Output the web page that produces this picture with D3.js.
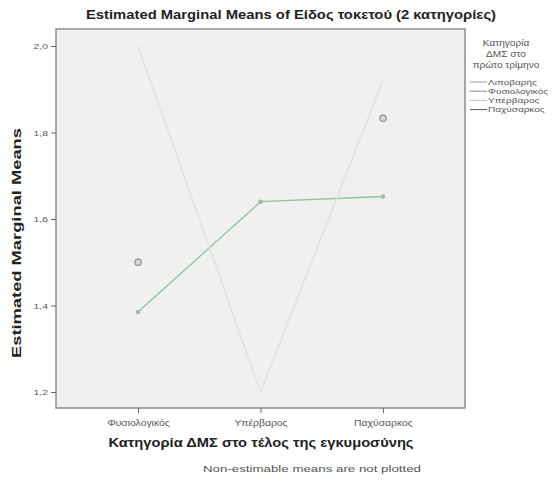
<!DOCTYPE html>
<html>
<head>
<meta charset="utf-8">
<script src="https://cdn.jsdelivr.net/npm/d3@7"></script>
<style>
  body { margin: 0; background: #fff; }
  text { font-family: Arial, "Liberation Sans", sans-serif; }
</style>
</head>
<body>
<script>
// data
var endCategories = ['Φυσιολογικός', 'Υπέρβαρος', 'Παχύσαρκος'];
var seriesNames = ['Λιποβαρής', 'Φυσιολογικός', 'Υπέρβαρος', 'Παχύσαρκος'];
var lipobaris    = [1.50, null, null];
var fysiologikos = [1.385, 1.64, 1.652];
var yperbaros    = [2.0, 1.2, 1.92];
var paxysarkos   = [null, null, 1.833];
var yTicks = [1.2, 1.4, 1.6, 1.8, 2.0];

var seriesValues = [lipobaris, fysiologikos, yperbaros, paxysarkos];
var seriesColors = ['#a9a9a9', '#8fc49b', '#e7e3db', '#5a5a5a'];
var legendColors = ['#9a9a9a', '#8a8a8a', '#c4c4c4', '#555555'];

var W = 558, H = 486;
var frame = {left: 56, right: 465, top: 29, bottom: 408};

var svg = d3.select('body').append('svg')
  .attr('width', W)
  .attr('height', H);

// the source rendering has wide lettering, so text is stretched to measured widths
function stretch(sel, factor) {
  sel.each(function() {
    var w = this.getComputedTextLength();
    d3.select(this).attr('textLength', w * factor).attr('lengthAdjust', 'spacingAndGlyphs');
  });
}

var x = d3.scalePoint()
  .domain(endCategories)
  .range([frame.left, frame.right])
  .padding(0.67);

var y = d3.scaleLinear()
  .domain([1.2, 2.0])
  .range([392, 46]);

// plot area
svg.append('rect')
  .attr('x', frame.left)
  .attr('y', frame.top)
  .attr('width', frame.right - frame.left)
  .attr('height', frame.bottom - frame.top)
  .attr('fill', '#f0f0f0')
  .attr('stroke', '#8c8c8c')
  .attr('stroke-width', 1.5);

// axes
var yAxis = svg.append('g')
  .attr('transform', 'translate(' + frame.left + ',0)')
  .call(d3.axisLeft(y).tickValues(yTicks).tickSize(5)
    .tickFormat(function(d) { return d3.format('.1f')(d).replace('.', ','); }));
yAxis.select('.domain').remove();
yAxis.selectAll('line').attr('stroke', '#666');
yAxis.selectAll('text').attr('font-size', 8).attr('fill', '#555')
  .attr('font-family', 'Arial, "Liberation Sans", sans-serif');
stretch(yAxis.selectAll('text'), 1.3);

var xAxis = svg.append('g')
  .attr('transform', 'translate(0,' + frame.bottom + ')')
  .call(d3.axisBottom(x).tickSize(5).tickPadding(7));
xAxis.select('.domain').remove();
xAxis.selectAll('line').attr('stroke', '#666');
xAxis.selectAll('text').attr('font-size', 8.5).attr('fill', '#555')
  .attr('font-family', 'Arial, "Liberation Sans", sans-serif');
stretch(xAxis.selectAll('text'), 1.22);

// lines
var line = d3.line()
  .defined(function(d) { return d != null; })
  .x(function(d, i) { return x(endCategories[i]); })
  .y(function(d) { return y(d); });

svg.append('defs').append('clipPath').attr('id', 'clip')
  .append('rect')
  .attr('x', frame.left).attr('y', frame.top)
  .attr('width', frame.right - frame.left)
  .attr('height', frame.bottom - frame.top);

var plot = svg.append('g').attr('clip-path', 'url(#clip)');

seriesValues.forEach(function(vals, s) {
  var pts = vals.map(function(v, i) { return {v: v, c: endCategories[i]}; })
    .filter(function(d) { return d.v != null; });
  if (pts.length > 1) {
    plot.append('path')
      .datum(vals)
      .attr('fill', 'none')
      .attr('stroke', seriesColors[s])
      .attr('stroke-width', s === 2 ? 1.8 : 1.3)
      .attr('d', line);
    if (s === 1) {
      plot.selectAll('.dot' + s)
        .data(pts)
        .enter().append('circle')
        .attr('cx', function(d) { return x(d.c); })
        .attr('cy', function(d) { return y(d.v); })
        .attr('r', 2.2)
        .attr('fill', '#9fb8a4');
    }
  } else {
    plot.selectAll('.pt' + s)
      .data(pts)
      .enter().append('circle')
      .attr('cx', function(d) { return x(d.c); })
      .attr('cy', function(d) { return y(d.v); })
      .attr('r', 3.2)
      .attr('fill', '#d8d8d8')
      .attr('stroke', '#8e8e8e')
      .attr('stroke-width', 1.2);
  }
});

// titles
svg.append('text')
  .attr('x', 291)
  .attr('y', 19)
  .attr('text-anchor', 'middle')
  .attr('font-size', 12.5)
  .attr('font-weight', 'bold')
  .attr('fill', '#222')
  .attr('textLength', 410)
  .attr('lengthAdjust', 'spacingAndGlyphs')
  .text('Estimated Marginal Means of Είδος τοκετού (2 κατηγορίες)');

svg.append('text')
  .attr('transform', 'translate(21,243) rotate(-90)')
  .attr('text-anchor', 'middle')
  .attr('font-size', 12.5)
  .attr('font-weight', 'bold')
  .attr('fill', '#222')
  .attr('textLength', 230)
  .attr('lengthAdjust', 'spacingAndGlyphs')
  .text('Estimated Marginal Means');

svg.append('text')
  .attr('x', 261)
  .attr('y', 447)
  .attr('text-anchor', 'middle')
  .attr('font-size', 12)
  .attr('font-weight', 'bold')
  .attr('fill', '#222')
  .attr('textLength', 305)
  .attr('lengthAdjust', 'spacingAndGlyphs')
  .text('Κατηγορία ΔΜΣ στο τέλος της εγκυμοσύνης');

svg.append('text')
  .attr('x', 312)
  .attr('y', 472)
  .attr('text-anchor', 'middle')
  .attr('font-size', 9.5)
  .attr('fill', '#555')
  .attr('textLength', 218)
  .attr('lengthAdjust', 'spacingAndGlyphs')
  .text('Non-estimable means are not plotted');

// legend
var legend = svg.append('g').attr('transform', 'translate(506,0)');
['Κατηγορία', 'ΔΜΣ στο', 'πρώτο τρίμηνο'].forEach(function(t, i) {
  legend.append('text')
    .attr('y', 46 + i * 11)
    .attr('text-anchor', 'middle')
    .attr('font-size', 9)
    .attr('fill', '#555')
    .text(t);
});
stretch(legend.selectAll('text'), 1.12);

var items = legend.selectAll('.item')
  .data(seriesNames)
  .enter().append('g')
  .attr('class', 'item')
  .attr('transform', function(d, i) { return 'translate(-36,' + (82 + i * 9.2) + ')'; });
items.append('line')
  .attr('x1', 0).attr('x2', 17)
  .attr('stroke', function(d, i) { return legendColors[i]; })
  .attr('stroke-width', 1);
items.append('text')
  .attr('x', 18)
  .attr('y', 2.8)
  .attr('font-size', 8)
  .attr('fill', '#555')
  .text(function(d) { return d; });
stretch(items.selectAll('text'), 1.25);
</script>
</body>
</html>
